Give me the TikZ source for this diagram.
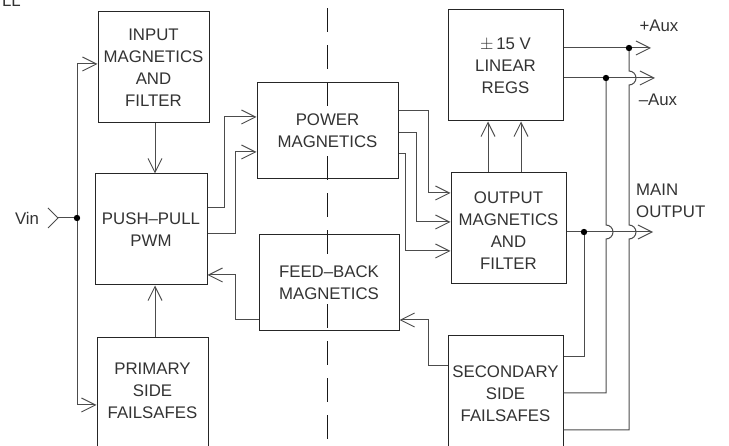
\documentclass[tikz,border=0pt]{standalone}
\usepackage{fontspec}
\setmainfont{Liberation Sans}
\usetikzlibrary{arrows.meta, calc}

\begin{document}
\begin{tikzpicture}[x=1pt, y=-1pt,
  blk/.style={draw=black!85, line width=1pt, inner sep=0pt},
  lbl/.style={fill=white, align=center, inner sep=2pt, text=black!80,
    font=\fontsize{16.8}{22}\selectfont},
  wire/.style={draw=black!70, line width=1pt},
  >={Straight Barb[length=14pt, width=14pt]}]
\clip (0,0) rectangle (729,446);

% Fragment of a title, cut off at the top
\node[lbl, anchor=base east, inner sep=0pt] (frag) at (21,7) {LL};

% Dividing line
\draw[line width=1pt, black!90, dash pattern=on 24pt off 13pt] (327,8.3) -- (327,446);

% Primary side
\node[blk, minimum width=111pt, minimum height=111pt] (inp) at (153.5,67.5) {};
\node[lbl] (inpt) at (inp) {INPUT\\MAGNETICS\\AND\\FILTER};
\node[blk, minimum width=112pt, minimum height=111pt] (pp) at (151,229.5) {};
\node[lbl] (ppt) at (pp) {PUSH–PULL\\PWM};
\node[blk, minimum width=111pt, minimum height=132pt] (psf) at (152.5,404) {};
\node[lbl] (psft) at ([yshift=-53pt]psf.north) {PRIMARY\\SIDE\\FAILSAFES};

% Magnetics across the barrier
\node[blk, minimum width=141pt, minimum height=96pt] (pwr) at (327.5,131) {};
\node[lbl] (pwrt) at (pwr) {POWER\\MAGNETICS};
\node[blk, minimum width=140pt, minimum height=96pt] (fb) at (329,283) {};
\node[lbl] (fbt) at (fb) {FEED–BACK\\MAGNETICS};

% Secondary side
\node[blk, minimum width=115pt, minimum height=111pt] (lin) at (505.5,65.5) {};
\node[lbl] (lint) at (lin) {$\pm$\,15 V\\LINEAR\\REGS};
\node[blk, minimum width=115pt, minimum height=111pt] (out) at (508.5,228.5) {};
\node[lbl] (outt) at ([yshift=-2pt]out) {OUTPUT\\MAGNETICS\\AND\\FILTER};
\node[blk, minimum width=115pt, minimum height=134pt] (ssf) at (505.5,403) {};
\node[lbl] (ssft) at ([yshift=-58pt]ssf.north) {SECONDARY\\SIDE\\FAILSAFES};

% Terminals and junctions
\coordinate (vin) at (58,218);
\coordinate (vj) at (77,218);
\coordinate (pa) at (651,48);
\coordinate (na) at (655,78);
\coordinate (mo) at (653,232);
\coordinate (pj) at (629,48);
\coordinate (nj) at (606,78);
\coordinate (mj) at (584,232);
\node[lbl, fill=none] (vint) at (27,218) {Vin};
\node[lbl, fill=none] (pat) at (659,26) {+Aux};
\node[lbl, fill=none] (nat) at (658,100) {–Aux};
\node[lbl, fill=none, align=left, anchor=west] (mot) at (634,201) {MAIN\\OUTPUT};

% Input
\draw[wire] ($(vin)+(-10,-10)$) -- (vin) -- ($(vin)+(-10,10)$);
\draw[wire] (vin) -- (vj);
\draw[wire,->] (vj) |- ([yshift=3.5pt]inp.west);
\draw[wire,->] (vj) |- ([yshift=-1pt]psf.west);
\coordinate (a1) at ([xshift=1.5pt]inp.south);
\draw[wire,->] (a1) -- (a1 |- pp.north);
\coordinate (a2) at ([xshift=2.5pt]psf.north);
\draw[wire,->] (a2) -- (a2 |- pp.south);

% Drive and feedback
\draw[wire,->] ([yshift=21.5pt]pp.east) -- ++(17,0) |- ([yshift=14pt]pwr.west);
\draw[wire,->] ([yshift=-4.5pt]pp.east) -- ++(28,0) |- ([yshift=-21pt]pwr.west);
\draw[wire,->] ([yshift=-37pt]fb.west) -- ++(-23,0) |- ([yshift=-45.5pt]pp.east);
\draw[wire,->] ([yshift=37pt]ssf.west) -- ++(-19,0) |- ([yshift=-37pt]fb.east);

% Power to output
\draw[wire,->] ([yshift=20pt]pwr.east) -- ++(30,0) |- ([yshift=35.5pt]out.west);
\draw[wire,->] ([yshift=-2pt]pwr.east) -- ++(18,0) |- ([yshift=6.5pt]out.west);
\draw[wire,->] ([yshift=-23pt]pwr.east) -- ++(7,0) |- ([yshift=-22.5pt]out.west);
\coordinate (a3) at ([xshift=-20.5pt]out.north);
\draw[wire,->] (a3) -- (a3 |- lin.south);
\coordinate (a4) at ([xshift=12.5pt]out.north);
\draw[wire,->] (a4) -- (a4 |- lin.south);

% Outputs
\draw[wire,->] ([yshift=17.5pt]lin.east) -- (pa);
\draw[wire,->] ([yshift=-12.5pt]lin.east) -- (na);
\draw[wire,->] ([yshift=-3.5pt]out.east) -- (mo);

% Sense lines to the secondary failsafes
\draw[wire] (mj) |- ([yshift=46pt]ssf.east);
\draw[wire] (nj) -- ($(nj |- mj)+(0,-7)$) arc[start angle=90, end angle=-90, radius=7pt]
  |- ([yshift=10pt]ssf.east);
\draw[wire] (pj) -- ($(pj |- nj)+(0,-7)$) arc[start angle=90, end angle=-90, radius=7pt]
  -- ($(pj |- mj)+(0,-7)$) arc[start angle=90, end angle=-90, radius=7pt]
  |- ([yshift=-27pt]ssf.east);

% Dots
\foreach \j in {vj,pj,nj,mj}
  \fill (\j) circle (3.2pt);
\end{tikzpicture}
\end{document}
